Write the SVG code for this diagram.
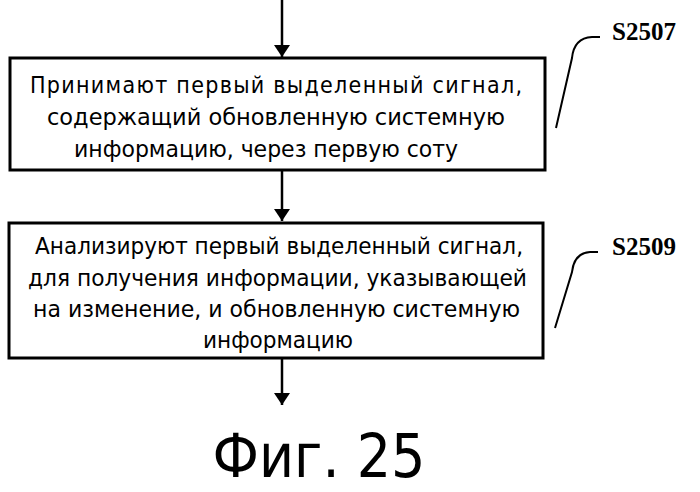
<svg xmlns="http://www.w3.org/2000/svg" width="700" height="492" viewBox="0 0 700 492">
<defs><marker id="ah" markerWidth="12" markerHeight="20" refX="12" refY="10" orient="auto" markerUnits="userSpaceOnUse"><path d="M0,2 L12,10 L0,18 Z" fill="#000"/></marker></defs>
<style>.b{fill:#fff;stroke:#000;stroke-width:3}.t{font-family:"DejaVu Sans Condensed","DejaVu Sans",sans-serif;font-size:23px}.l{font-family:"Liberation Serif",serif;font-weight:bold;font-size:25px}.c{fill:none;stroke:#000;stroke-width:2}.e{stroke:#000;stroke-width:2.5;fill:none}</style>
<g id="connectors">
<line class="e" x1="282" y1="0" x2="282" y2="57" marker-end="url(#ah)"/>
<line class="e" x1="282" y1="170" x2="282" y2="221" marker-end="url(#ah)"/>
<line class="e" x1="282" y1="358" x2="282" y2="405" marker-end="url(#ah)"/>
</g>
<g id="n1"><rect class="b" x="10" y="58" width="535" height="112"/>
<text class="t" lengthAdjust="spacingAndGlyphs"><tspan x="30" y="93" textLength="492">Принимают первый выделенный сигнал,</tspan></text>
<text class="t"><tspan x="47" y="125" textLength="458" lengthAdjust="spacingAndGlyphs">содержащий обновленную системную</tspan></text>
<text class="t"><tspan x="74" y="157" textLength="384" lengthAdjust="spacingAndGlyphs">информацию, через первую соту</tspan></text></g>
<g id="n2"><rect class="b" x="9" y="223" width="534" height="135"/>
<text class="t"><tspan x="35" y="254" textLength="488" lengthAdjust="spacingAndGlyphs">Анализируют первый выделенный сигнал,</tspan></text>
<text class="t"><tspan x="28" y="286" textLength="499" lengthAdjust="spacingAndGlyphs">для получения информации, указывающей</tspan></text>
<text class="t"><tspan x="33" y="317" textLength="487" lengthAdjust="spacingAndGlyphs">на  изменение, и обновленную системную</tspan></text>
<text class="t"><tspan x="203" y="348" textLength="150" lengthAdjust="spacingAndGlyphs">информацию</tspan></text></g>
<g id="lab1"><path class="c" d="M600,37 L592,37 Q574,38 572,58 L556,128"/><text class="l" x="612" y="40">S2507</text></g>
<g id="lab2"><path class="c" d="M598,252 L590,252 Q574,253 572,272 L555,328"/><text class="l" x="612" y="255">S2509</text></g>
<text x="319" y="477" style="font-family:'DejaVu Sans Condensed','DejaVu Sans',sans-serif;font-size:60px;text-anchor:middle">Фиг. 25</text>
</svg>
